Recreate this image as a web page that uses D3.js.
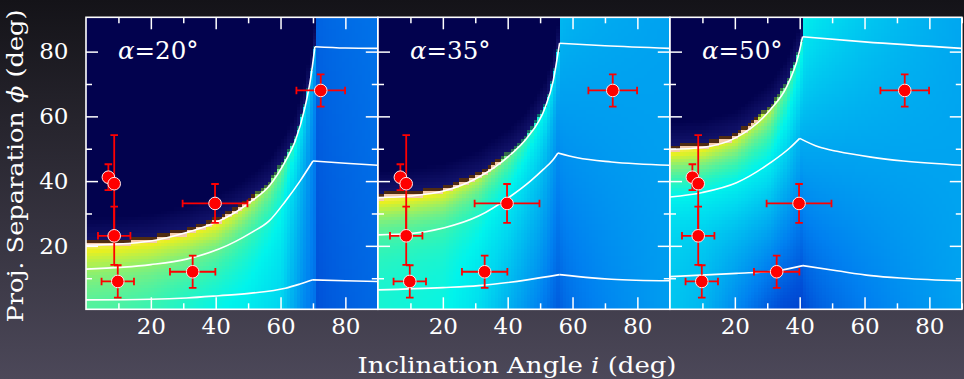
<!DOCTYPE html>
<html>
<head>
<meta charset="utf-8">
<script src="https://cdn.jsdelivr.net/npm/d3@7"></script>
<style>
  html, body { margin: 0; padding: 0; background: #1a1920; }
  svg { display: block; }
</style>
</head>
<body>
<div id="chart"></div>
<script>
// ---- data ----
const alphas = [20, 35, 50]
const breakInc = [70.6, 56, 40.8]

// white contour lines, [inclination, separation]
const upperContour = [
  [[0,20.2],[9,20.5],[20,21.5],[31,24.1],[40,27.2],[46,30.3],[51,33.8],[56.5,38.5],[61.5,46.2],[64.5,52.3],[67.5,62.6],[69.3,71.8],[70.6,81.5],[80,81.1],[90,81.0]],
  [[0,34.9],[10,35.4],[20.5,37.0],[31,41.2],[41,48.3],[46,53.4],[51.5,62.6],[54,70.8],[56,82.6],[70,81.8],[90,81.0]],
  [[0,49.8],[10,50.4],[20.5,53.5],[31,62.1],[36,69.2],[39.5,78.4],[40.9,84.6],[60,83.0],[90,81.0]]
]
const middleContour = [
  [[0,12.8],[20,14.2],[31,15.9],[41,19.0],[51,24.1],[56.5,27.7],[61.5,33.8],[66,40.0],[70,46.2],[80,45.5],[90,44.9]],
  [[0,23.4],[10,23.8],[20.5,25.6],[31,29.2],[41,35.4],[47,40.0],[51,43.6],[54,46.6],[55.5,48.7],[61.5,47.2],[72,45.9],[90,44.9]],
  [[0,35.1],[10,36.5],[20.5,39.5],[31,45.7],[37,50.3],[40,53.2],[46,50.5],[51.5,49.2],[62,47.4],[72,46.2],[90,44.9]]
]
const lowerContour = [
  [[0,3.3],[20,3.5],[31,3.9],[41,4.6],[51,5.4],[61.5,6.9],[66,8.2],[70,9.5],[80,9.2],[90,9.0]],
  [[0,6.4],[20,7.1],[31,7.7],[46,9.5],[56,11.1],[66,10.1],[72,9.7],[90,9.2]],
  [[0,10.5],[20.5,11.5],[33,12.3],[41,13.9],[51.5,12.3],[62,10.8],[72,10.0],[90,9.2]]
]

// colour level of the map, [inclination, level]
const floorTone = [
  [[0,0.53],[10,0.52],[20,0.5],[30,0.47],[40,0.44],[50,0.42],[60,0.37],[67,0.22],[70.6,0.17]],
  [[0,0.48],[20,0.46],[30,0.40],[40,0.30],[50,0.20],[56,0.12]],
  [[0,0.34],[10,0.31],[20,0.22],[30,0.12],[35,0.08],[40.8,0.06]]
]
const shoulderTone = [
  [[0,0.54],[40,0.51],[60,0.45],[67,0.32],[70.6,0.2]],
  [[0,0.48],[20,0.47],[30,0.46],[40,0.44],[50,0.38],[56,0.28]],
  [[0,0.34],[10,0.36],[20,0.42],[30,0.5],[35,0.48],[40.8,0.42]]
]
const edgeTone = [
  [[0,0.8],[20,0.78],[40,0.78],[50,0.7],[60,0.6],[67,0.42],[70.6,0.3]],
  [[0,0.8],[20,0.76],[30,0.7],[40,0.6],[50,0.48],[56,0.38]],
  [[0,0.8],[10,0.78],[20,0.74],[30,0.7],[35,0.6],[40.8,0.5]]
]
// right of the break: near bottom, near top, far bottom, far top
const rightTone = [[0.09, 0.13, 0.15, 0.17], [0.12, 0.32, 0.26, 0.27], [0.06, 0.46, 0.27, 0.28]]
const bandEnd = [52, 38, 27]
const edgeWidth = [9, 8, 10]

const toneStops = [0, 0.1, 0.2, 0.3, 0.38, 0.45, 0.52, 0.6, 0.68, 0.76, 0.82, 0.87, 0.92, 0.96, 1]
const toneColors = ["#0030c0","#0050d8","#0080f0","#00b0f0","#00d8f0","#00f4ec","#30f4b8","#70f088","#b0f050","#e8f020","#f8e860","#f8d0b0","#d8a078","#6a3a18","#000000"]

// data points
const incl    = [6.9, 8.7, 8.7, 9.8, 39.8, 32.9, 72.4]
const inclErr = [0, 0, 5, 5, 10, 7, 7.5]
const sep     = [41.2, 39.2, 23.1, 9.0, 33.1, 12.0, 68.0]
const sepErr  = [4, 15, 9, 5, 6, 5, 5]

const majorTicks = [20, 40, 60, 80]
const minorTicksX = [10, 30, 50, 70, 90]
const minorTicksY = [10, 30, 50, 70]

// ---- layout ----
const width = 964
const height = 379
const panelLeft = [86, 378, 670]
const panelWidth = 291.8
const plotTop = 17.3
const plotBottom = 309.3
const navy = "#02024e"
const font = "'DejaVu Serif', serif"

const yScale = d3.scaleLinear().domain([0.4, 90.6]).range([plotBottom, plotTop])
const xScales = panelLeft.map(l => d3.scaleLinear().domain([0, 90]).range([l, l + panelWidth]))

const toneColor = d3.scaleLinear().domain(toneStops).range(toneColors).interpolate(d3.interpolateRgb).clamp(true)
const byInc = pts => d3.scaleLinear().domain(pts.map(d => d[0])).range(pts.map(d => d[1])).clamp(true)

const cornerIndex = pts => d3.maxIndex(pts, d => d[1])
const upperS = upperContour.map(pts => byInc(pts.slice(0, cornerIndex(pts) + 1)))
const floorS = floorTone.map(byInc)
const shoulderS = shoulderTone.map(byInc)
const edgeS = edgeTone.map(byInc)

function cellColor(p, i, f) {
  const b = breakInc[p]
  if (i >= b) {
    const s = Math.sqrt((i - b) / (90 - b))
    const [nb, nt, fb, ft] = rightTone[p]
    const near = nb + (nt - nb) * f / 90
    const far = fb + (ft - fb) * f / 90
    return toneColor(near + (far - near) * s)
  }
  const edge = upperS[p](i) + 1.5
  const d = edge - f
  if (d < 0) {
    const h = Math.max(0, 1 + d / 7)
    return d3.interpolateRgb(navy, "#2a2c94")(0.4 * h)
  }
  if (i < bandEnd[p]) {
    if (d < 1) return toneColor(0.97)
    if (d < 2) return toneColor(0.875)
  }
  const fl = floorS[p](i), sh = shoulderS[p](i), ed = edgeS[p](i)
  const t = fl + (sh - fl) * (f / edge) + (ed - sh) * Math.exp(-Math.max(0, d - 2) / edgeWidth[p])
  if (d < 1) return d3.interpolateRgb(toneColor(t), "#000018")(0.55)
  return toneColor(t)
}

const cells = []
alphas.forEach((a, p) => {
  d3.range(90).forEach(i => {
    d3.range(91).forEach(f => {
      cells.push({ p, i, f, color: cellColor(p, i + 0.5, f + 0.5) })
    })
  })
})

// ---- drawing ----
const svg = d3.select("#chart").append("svg")
  .attr("width", width)
  .attr("height", height)

const defs = svg.append("defs")
const grad = defs.append("linearGradient").attr("id", "bg").attr("x1", 0).attr("y1", 0).attr("x2", 0).attr("y2", 1)
grad.append("stop").attr("offset", "0%").attr("stop-color", "#141318")
grad.append("stop").attr("offset", "100%").attr("stop-color", "#4c4859")

svg.append("rect").attr("width", width).attr("height", height).attr("fill", "url(#bg)")

alphas.forEach((a, p) => {
  defs.append("clipPath").attr("id", "clip" + p)
    .append("rect")
    .attr("x", panelLeft[p]).attr("y", plotTop)
    .attr("width", panelWidth).attr("height", plotBottom - plotTop)
})

alphas.forEach((a, p) => {
  const x = xScales[p]
  const g = svg.append("g").attr("clip-path", `url(#clip${p})`)

  g.selectAll("rect.cell")
    .data(cells.filter(c => c.p === p))
    .enter().append("rect")
    .attr("class", "cell")
    .attr("x", d => x(d.i))
    .attr("y", d => yScale(d.f + 1))
    .attr("width", d => x(d.i + 1) - x(d.i) + 0.4)
    .attr("height", d => yScale(d.f) - yScale(d.f + 1) + 0.4)
    .attr("fill", d => d.color)
    .attr("shape-rendering", "crispEdges")

  // contour lines, split at the corner
  const line = d3.line().x(d => x(d[0])).y(d => yScale(d[1])).curve(d3.curveMonotoneX)
  ;[upperContour[p], middleContour[p], lowerContour[p]].forEach(pts => {
    const k = cornerIndex(pts)
    ;[pts.slice(0, k + 1), pts.slice(k)].forEach(seg => {
      g.append("path")
        .datum(seg)
        .attr("d", line)
        .attr("fill", "none")
        .attr("stroke", "#ffffff")
        .attr("stroke-width", 1.6)
    })
  })

  // error bars
  const pts = incl.map((v, k) => ({ i: v, ie: inclErr[k], s: sep[k], se: sepErr[k] }))
  const bars = g.append("g").attr("stroke", "#ff0000").attr("stroke-width", 1.8).attr("fill", "none")
  pts.forEach(d => {
    const cx = x(d.i), cy = yScale(d.s)
    if (d.se > 0) {
      bars.append("line").attr("x1", cx).attr("x2", cx).attr("y1", yScale(d.s - d.se)).attr("y2", yScale(d.s + d.se))
      ;[d.s - d.se, d.s + d.se].forEach(v => bars.append("line")
        .attr("x1", cx - 3.8).attr("x2", cx + 3.8).attr("y1", yScale(v)).attr("y2", yScale(v)))
    }
    if (d.ie > 0) {
      bars.append("line").attr("y1", cy).attr("y2", cy).attr("x1", x(d.i - d.ie)).attr("x2", x(d.i + d.ie))
      ;[d.i - d.ie, d.i + d.ie].forEach(v => bars.append("line")
        .attr("y1", cy - 3.8).attr("y2", cy + 3.8).attr("x1", x(v)).attr("x2", x(v)))
    }
  })
  g.selectAll("circle.dot")
    .data(pts)
    .enter().append("circle")
    .attr("class", "dot")
    .attr("cx", d => x(d.i))
    .attr("cy", d => yScale(d.s))
    .attr("r", 6.3)
    .attr("fill", "#ff0000")
    .attr("stroke", "#ffe8e8")
    .attr("stroke-width", 1)

  // alpha label
  const lab = svg.append("text")
    .attr("x", panelLeft[p] + 32)
    .attr("y", 59)
    .attr("fill", "#ffffff")
    .attr("font-family", font)
    .attr("font-size", 24.5)
  lab.append("tspan").attr("font-style", "italic").text("α")
  lab.append("tspan").text(`=${a}°`)

  // axes, ticks pointing inward
  const right = panelLeft[p] + panelWidth
  const axes = [
    [d3.axisBottom(x), `translate(0,${plotBottom})`, majorTicks, -12, true, 8.6],
    [d3.axisBottom(x), `translate(0,${plotBottom})`, minorTicksX, -6, false, 0],
    [d3.axisTop(x), `translate(0,${plotTop})`, majorTicks, -12, false, 0],
    [d3.axisTop(x), `translate(0,${plotTop})`, minorTicksX, -6, false, 0],
    [d3.axisLeft(yScale), `translate(${panelLeft[p]},0)`, majorTicks, -12, p === 0, 17.5],
    [d3.axisLeft(yScale), `translate(${panelLeft[p]},0)`, minorTicksY, -6, false, 0],
    [d3.axisRight(yScale), `translate(${right},0)`, majorTicks, -12, false, 0],
    [d3.axisRight(yScale), `translate(${right},0)`, minorTicksY, -6, false, 0]
  ]
  axes.forEach(([axis, tr, vals, size, labels, pad]) => {
    const ag = svg.append("g")
      .attr("transform", tr)
      .call(axis.tickValues(vals).tickSize(size).tickPadding(pad)
        .tickFormat(labels ? d3.format("d") : ""))
    ag.select(".domain").remove()
    ag.selectAll(".tick line").attr("stroke", "#ffffff").attr("stroke-width", 1.5)
    ag.selectAll(".tick text").attr("fill", "#ffffff").attr("font-family", font).attr("font-size", 23)
  })

  svg.append("rect")
    .attr("x", panelLeft[p]).attr("y", plotTop)
    .attr("width", panelWidth).attr("height", plotBottom - plotTop)
    .attr("fill", "none")
    .attr("stroke", "#ffffff")
    .attr("stroke-width", 1.6)
})

// axis titles, stretched to the width they take in the figure
const xTitle = svg.append("text")
  .attr("x", 517).attr("y", 373)
  .attr("text-anchor", "middle")
  .attr("fill", "#ffffff")
  .attr("font-family", font)
  .attr("font-size", 22.5)
  .attr("textLength", 319)
  .attr("lengthAdjust", "spacingAndGlyphs")
xTitle.append("tspan").text("Inclination Angle ")
xTitle.append("tspan").attr("font-style", "italic").text("i")
xTitle.append("tspan").text(" (deg)")

const yTitle = svg.append("text")
  .attr("transform", "translate(23,166) rotate(-90)")
  .attr("text-anchor", "middle")
  .attr("fill", "#ffffff")
  .attr("font-family", font)
  .attr("font-size", 22.5)
  .attr("textLength", 313)
  .attr("lengthAdjust", "spacingAndGlyphs")
yTitle.append("tspan").text("Proj. Separation ")
yTitle.append("tspan").attr("font-style", "italic").text("ϕ")
yTitle.append("tspan").text(" (deg)")
</script>
</body>
</html>
